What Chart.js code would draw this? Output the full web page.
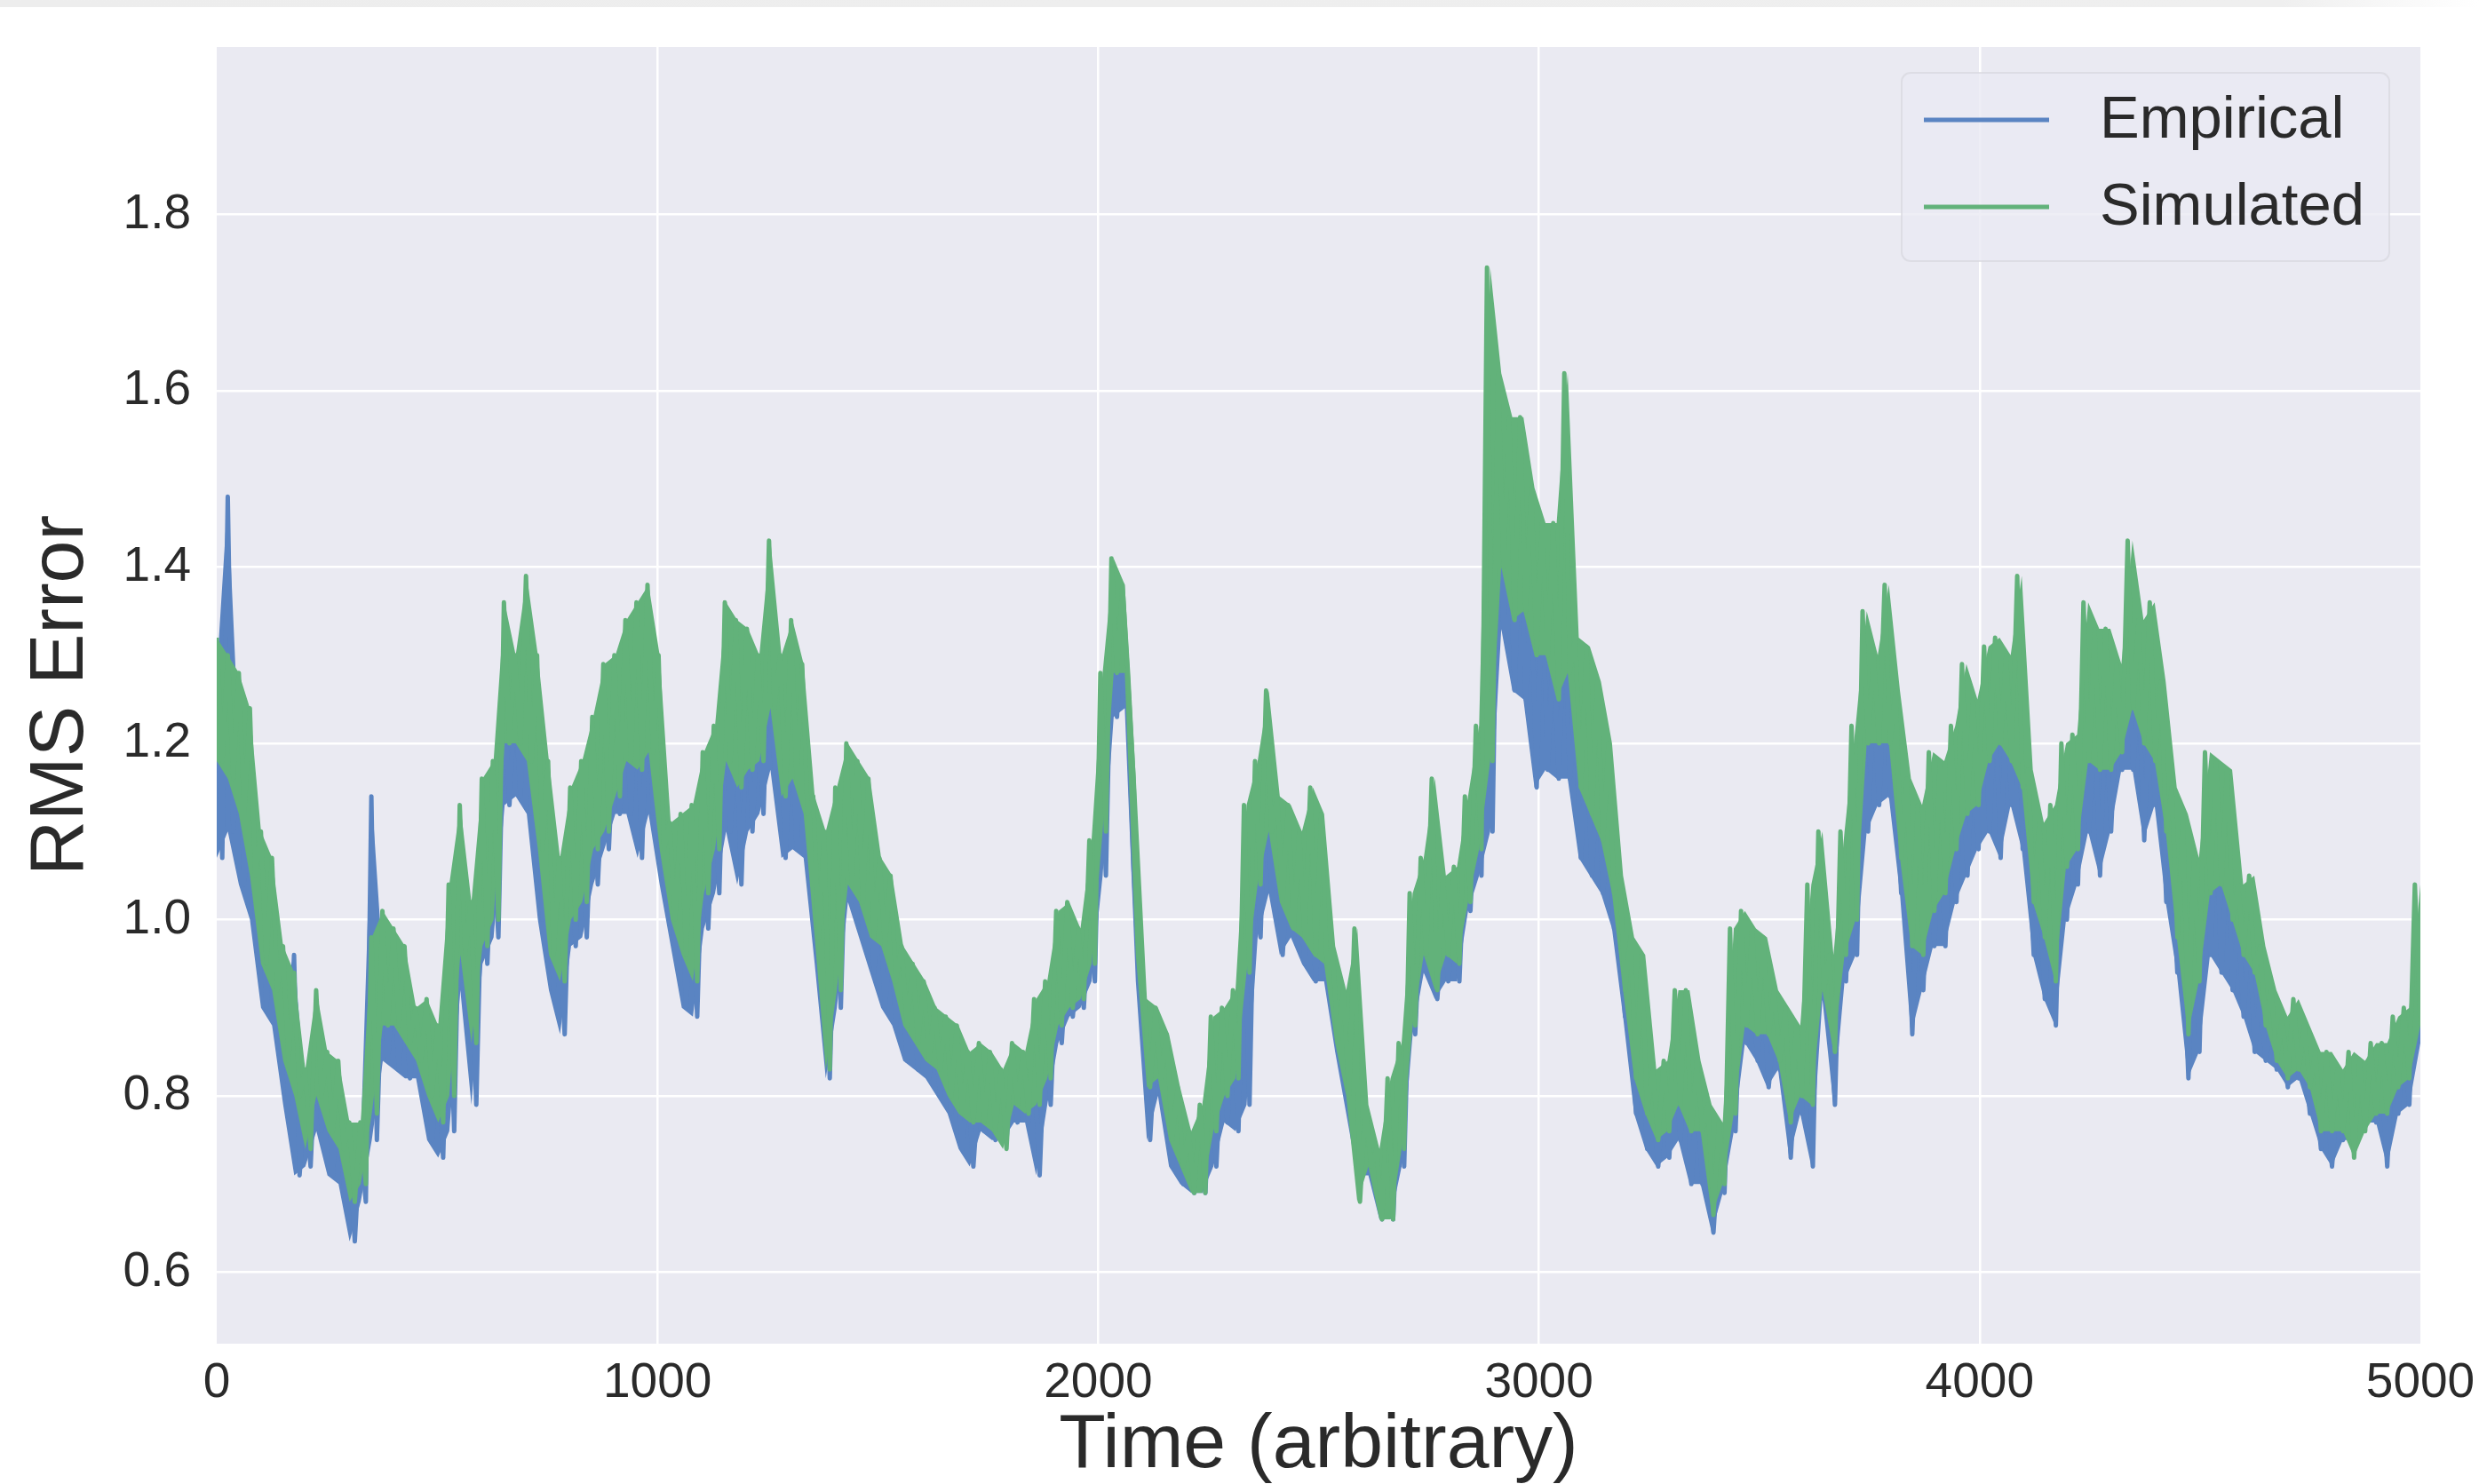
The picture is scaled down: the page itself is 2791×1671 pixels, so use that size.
<!DOCTYPE html>
<html>
<head>
<meta charset="utf-8">
<title>RMS Error</title>
<script src="https://cdn.jsdelivr.net/npm/chart.js@4.4.1/dist/chart.umd.min.js"></script>
<style>
  html, body { margin: 0; padding: 0; background: #ffffff; }
  #wrap { position: relative; width: 2791px; height: 1671px; }
  #strip { position: absolute; left: 0; top: 0; width: 2791px; height: 8px;
           background: linear-gradient(to right, #ededed 0%, #efefef 92%, #ffffff 100%); }
</style>
</head>
<body>
<div id="wrap">
  <canvas id="myChart" width="2791" height="1671"></canvas>
  <div id="strip"></div>
</div>
<script>
// values, one pair (upper / lower edge of the noisy band) per 25 time units
const binWidth = 25;

const simHigh = [
  1.32,1.30,1.28,1.24,1.10,1.07,0.97,0.94,0.83,0.92,
  0.85,0.84,0.77,0.77,0.98,1.01,0.99,0.97,0.90,0.91,
  0.88,1.04,1.13,1.02,1.16,1.18,1.36,1.30,1.39,1.30,
  1.18,1.07,1.15,1.18,1.23,1.29,1.30,1.34,1.36,1.38,
  1.30,1.11,1.12,1.13,1.19,1.22,1.36,1.34,1.33,1.30,
  1.43,1.30,1.34,1.29,1.14,1.10,1.15,1.20,1.18,1.16,
  1.07,1.05,0.97,0.95,0.93,0.90,0.89,0.88,0.85,0.86,
  0.85,0.83,0.86,0.85,0.91,0.93,1.01,1.02,0.99,1.09,
  1.28,1.41,1.38,1.16,0.91,0.90,0.87,0.81,0.76,0.79,
  0.89,0.90,0.92,1.13,1.18,1.26,1.14,1.13,1.10,1.15,
  1.12,0.97,0.92,0.99,0.79,0.74,0.82,0.86,1.03,1.07,
  1.16,1.05,1.06,1.14,1.22,1.74,1.62,1.57,1.57,1.49,
  1.45,1.45,1.62,1.32,1.31,1.27,1.20,1.05,0.98,0.96,
  0.83,0.84,0.92,0.92,0.84,0.79,0.77,0.99,1.01,0.99,
  0.98,0.92,0.90,0.88,1.04,1.10,0.96,1.10,1.22,1.35,
  1.30,1.38,1.26,1.16,1.13,1.19,1.18,1.22,1.29,1.25,
  1.31,1.32,1.30,1.39,1.17,1.11,1.13,1.20,1.21,1.36,
  1.33,1.33,1.29,1.43,1.34,1.36,1.27,1.15,1.12,1.07,
  1.19,1.18,1.17,1.04,1.05,0.97,0.92,0.89,0.91,0.88,
  0.85,0.85,0.83,0.85,0.84,0.86,0.86,0.89,0.90,1.04
];
const simLow = [
  1.18,1.16,1.12,1.05,0.95,0.92,0.84,0.80,0.74,0.80,
  0.76,0.74,0.68,0.70,0.78,0.88,0.88,0.86,0.84,0.80,
  0.77,0.80,0.96,0.86,0.97,1.00,1.20,1.20,1.18,1.08,
  0.96,0.93,1.00,1.02,1.08,1.10,1.14,1.18,1.17,1.19,
  1.08,1.00,0.96,0.93,1.03,1.08,1.18,1.15,1.17,1.18,
  1.24,1.14,1.16,1.12,0.98,0.83,0.92,1.04,1.02,0.98,
  0.97,0.93,0.88,0.86,0.84,0.83,0.80,0.78,0.77,0.77,
  0.76,0.74,0.79,0.78,0.79,0.82,0.88,0.90,0.91,0.95,
  1.10,1.28,1.28,0.96,0.81,0.82,0.75,0.72,0.69,0.69,
  0.76,0.80,0.82,0.94,1.04,1.10,1.02,0.99,0.98,0.96,
  0.95,0.86,0.80,0.68,0.72,0.66,0.66,0.74,0.88,0.96,
  0.92,0.96,0.95,1.02,1.08,1.18,1.40,1.34,1.35,1.30,
  1.30,1.25,1.28,1.15,1.12,1.09,1.03,0.92,0.82,0.78,
  0.75,0.76,0.79,0.76,0.76,0.665,0.70,0.78,0.88,0.87,
  0.87,0.84,0.77,0.80,0.79,0.92,0.85,0.96,1.00,1.20,
  1.20,1.20,1.07,0.97,0.96,1.01,1.03,1.08,1.12,1.13,
  1.18,1.20,1.18,1.15,1.02,0.98,0.93,1.06,1.08,1.18,
  1.17,1.17,1.19,1.24,1.20,1.18,1.10,0.98,0.87,0.93,
  1.03,1.04,1.00,0.96,0.94,0.88,0.84,0.82,0.83,0.81,
  0.76,0.76,0.76,0.73,0.76,0.78,0.78,0.81,0.82,0.88
];
const empHigh = [
  1.28,1.48,1.20,1.15,1.03,1.00,0.92,0.96,0.80,0.86,
  0.82,0.80,0.74,0.75,1.14,0.95,0.93,0.92,0.87,0.86,
  0.83,0.95,1.05,0.95,1.05,1.10,1.26,1.25,1.27,1.18,
  1.06,1.00,1.08,1.10,1.15,1.17,1.22,1.24,1.26,1.28,
  1.20,1.06,1.05,1.03,1.10,1.14,1.26,1.22,1.24,1.24,
  1.32,1.22,1.24,1.20,1.05,1.00,1.05,1.12,1.10,1.06,
  1.02,0.98,0.93,0.90,0.89,0.87,0.85,0.83,0.81,0.81,
  0.80,0.79,0.83,0.82,0.84,0.87,0.94,0.96,0.96,1.02,
  1.20,1.34,1.33,1.06,0.86,0.86,0.81,0.77,0.73,0.74,
  0.82,0.85,0.87,1.03,1.10,1.18,1.08,1.06,1.04,1.05,
  1.03,0.92,0.86,0.80,0.76,0.70,0.72,0.80,0.95,1.01,
  1.03,1.00,1.00,1.08,1.15,1.42,1.50,1.45,1.45,1.38,
  1.38,1.32,1.35,1.22,1.20,1.16,1.10,0.98,0.88,0.85,
  0.79,0.80,0.85,0.84,0.80,0.74,0.74,0.88,0.94,0.93,
  0.92,0.88,0.84,0.84,0.90,1.00,0.90,1.02,1.10,1.26,
  1.25,1.28,1.16,1.05,1.04,1.09,1.10,1.14,1.19,1.19,
  1.24,1.25,1.25,1.30,1.08,1.04,1.02,1.12,1.14,1.26,
  1.24,1.24,1.24,1.33,1.26,1.26,1.18,1.06,0.98,0.99,
  1.10,1.10,1.08,1.00,0.99,0.92,0.88,0.86,0.87,0.85,
  0.81,0.80,0.80,0.80,0.80,0.82,0.82,0.85,0.86,0.95
];
const empLow = [
  1.07,1.10,1.04,1.00,0.90,0.88,0.79,0.71,0.72,0.76,
  0.71,0.70,0.635,0.68,0.75,0.84,0.83,0.82,0.82,0.75,
  0.73,0.76,0.92,0.79,0.95,0.98,1.13,1.14,1.12,1.00,
  0.92,0.87,0.97,0.98,1.04,1.08,1.12,1.12,1.07,1.12,
  1.04,0.97,0.90,0.89,0.99,1.03,1.10,1.04,1.10,1.12,
  1.17,1.07,1.08,1.07,0.95,0.82,0.90,1.02,0.98,0.94,
  0.90,0.88,0.84,0.83,0.82,0.80,0.78,0.74,0.72,0.76,
  0.75,0.75,0.77,0.77,0.71,0.79,0.86,0.89,0.90,0.93,
  1.05,1.23,1.24,0.93,0.75,0.80,0.72,0.70,0.69,0.69,
  0.72,0.77,0.76,0.79,0.98,1.03,0.96,0.98,0.95,0.93,
  0.93,0.85,0.78,0.71,0.71,0.66,0.66,0.72,0.87,0.94,
  0.91,0.93,0.93,1.01,1.05,1.10,1.33,1.26,1.25,1.15,
  1.17,1.16,1.16,1.07,1.05,1.03,0.99,0.89,0.78,0.74,
  0.72,0.73,0.75,0.70,0.70,0.645,0.69,0.76,0.86,0.84,
  0.81,0.83,0.73,0.78,0.72,0.91,0.79,0.93,0.96,1.10,
  1.13,1.14,1.03,0.87,0.92,0.97,0.97,1.02,1.05,1.08,
  1.10,1.07,1.13,1.08,0.96,0.91,0.88,1.00,1.04,1.10,
  1.05,1.10,1.17,1.17,1.09,1.13,1.02,0.94,0.82,0.85,
  0.96,0.94,0.92,0.89,0.85,0.84,0.83,0.81,0.82,0.78,
  0.74,0.72,0.75,0.75,0.77,0.77,0.72,0.78,0.79,0.86
];

const xTicks = [0, 1000, 2000, 3000, 4000, 5000];
const yTicks = [0.6, 0.8, 1.0, 1.2, 1.4, 1.6, 1.8];
const seriesNames = ['Empirical', 'Simulated'];

const FONT = '"Liberation Sans", Arial, Helvetica, sans-serif';
const TEXT = '#2a2a2a';
const BLUE = '#5a84c2';
const GREEN = '#62b27a';

const xMax = simHigh.length * binWidth;

// zig-zag trace: each bin gives its upper edge then its lower edge
function tracePoints(hi, lo) {
  const n = hi.length * 2;
  const pts = [];
  for (let i = 0; i < hi.length; i++) {
    pts.push({x: (2 * i) * xMax / (n - 1), y: hi[i]});
    pts.push({x: (2 * i + 1) * xMax / (n - 1), y: lo[i]});
  }
  return pts;
}

// one edge of the band, used to fill the space between the two edges
function edgePoints(vals) {
  return vals.map((v, i) => ({x: i * xMax / (vals.length - 1), y: v}));
}

function traceSet(label, hi, lo, color, order) {
  return {
    label: label,
    data: tracePoints(hi, lo),
    borderColor: color,
    borderWidth: 5,
    borderJoinStyle: 'round',
    pointRadius: 0,
    tension: 0,
    fill: false,
    order: order
  };
}

function edgeSet(vals, color, fill, order) {
  return {
    label: '',
    data: edgePoints(vals),
    borderColor: 'rgba(0,0,0,0)',
    backgroundColor: color,
    borderWidth: 1,
    pointRadius: 0,
    tension: 0,
    fill: fill,
    order: order
  };
}

const plotBackground = {
  id: 'plotBackground',
  beforeDraw(chart) {
    const {ctx, chartArea: a} = chart;
    ctx.save();
    ctx.fillStyle = '#ffffff';
    ctx.fillRect(0, 0, chart.width, chart.height);
    ctx.fillStyle = '#eaeaf2';
    ctx.fillRect(a.left, a.top, a.right - a.left, a.bottom - a.top);
    ctx.restore();
  }
};

// matplotlib-like legend box in the upper right corner of the plot
const boxLegend = {
  id: 'boxLegend',
  afterDatasetsDraw(chart) {
    const {ctx, chartArea: a} = chart;
    const w = 549, h = 212;
    const left = a.right - 35 - w;
    const top = a.top + 29;
    ctx.save();
    ctx.beginPath();
    ctx.roundRect(left, top, w, h, 10);
    ctx.fillStyle = 'rgba(234,234,242,0.8)';
    ctx.fill();
    ctx.lineWidth = 2;
    ctx.strokeStyle = 'rgba(215,215,222,0.7)';
    ctx.stroke();
    ctx.font = '67px ' + FONT;
    ctx.textBaseline = 'middle';
    ctx.textAlign = 'left';
    seriesNames.forEach((name, i) => {
      const ds = chart.data.datasets[i];
      const y = top + 53 + i * 98;
      ctx.strokeStyle = ds.borderColor;
      ctx.lineWidth = 5;
      ctx.beginPath();
      ctx.moveTo(left + 25, y);
      ctx.lineTo(left + 166, y);
      ctx.stroke();
      ctx.fillStyle = TEXT;
      ctx.fillText(name, left + 223, y + 2);
    });
    ctx.restore();
  }
};

const ctx = document.getElementById('myChart');
const myChart = new Chart(ctx, {
  type: 'line',
  data: {
    datasets: [
      traceSet(seriesNames[0], empHigh, empLow, BLUE, 2),
      traceSet(seriesNames[1], simHigh, simLow, GREEN, 0),
      edgeSet(empHigh, BLUE, '+1', 3),
      edgeSet(empLow, BLUE, false, 3),
      edgeSet(simHigh, GREEN, '+1', 1),
      edgeSet(simLow, GREEN, false, 1)
    ]
  },
  options: {
    responsive: false,
    animation: false,
    devicePixelRatio: 1,
    layout: { padding: { top: 53, right: 66, bottom: 0, left: 0 } },
    plugins: {
      legend: { display: false },
      tooltip: { enabled: false }
    },
    scales: {
      x: {
        type: 'linear',
        min: xTicks[0],
        max: xTicks[xTicks.length - 1],
        afterBuildTicks: (scale) => { scale.ticks = xTicks.map(v => ({value: v})); },
        afterFit: (scale) => {
          scale.height = 158;
          scale.paddingLeft = 0;
          scale.paddingRight = 0;
        },
        ticks: {
          padding: 17,
          color: TEXT,
          maxRotation: 0,
          autoSkip: false,
          font: { family: FONT, size: 55, lineHeight: 1 },
          callback: (v) => String(v)
        },
        grid: {
          color: (c) => (c.tick && (c.tick.value === 0 || c.tick.value === 5000)) ? 'rgba(0,0,0,0)' : '#ffffff',
          lineWidth: 2.5,
          drawTicks: false
        },
        border: { display: false },
        title: {
          display: true,
          text: 'Time (arbitrary)',
          color: TEXT,
          font: { family: FONT, size: 86, lineHeight: 1 },
          padding: { top: 0, bottom: 0 }
        }
      },
      y: {
        type: 'linear',
        min: 0.519,
        max: 1.99,
        afterBuildTicks: (scale) => { scale.ticks = yTicks.map(v => ({value: v})); },
        afterFit: (scale) => {
          scale.width = 244;
          scale.paddingTop = 0;
          scale.paddingBottom = 0;
        },
        ticks: {
          padding: 29,
          color: TEXT,
          font: { family: FONT, size: 55, lineHeight: 1 },
          callback: (v) => Number(v).toFixed(1)
        },
        grid: {
          color: '#ffffff',
          lineWidth: 2.5,
          drawTicks: false
        },
        border: { display: false },
        title: {
          display: true,
          text: 'RMS Error',
          color: TEXT,
          font: { family: FONT, size: 86, lineHeight: 1 },
          padding: { top: 26, bottom: 0 }
        }
      }
    }
  },
  plugins: [plotBackground, boxLegend]
});
</script>
</body>
</html>
